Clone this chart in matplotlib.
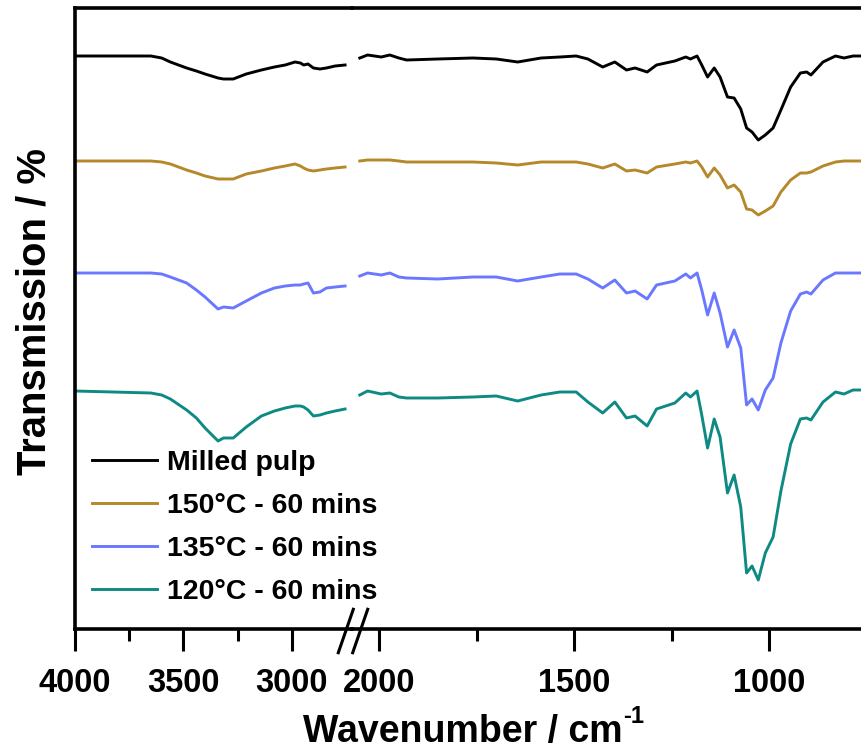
"""FTIR spectra of milled pulp vs. hydrothermally treated samples (broken x-axis)."""

import matplotlib

matplotlib.use("Agg")
import matplotlib.pyplot as plt
from matplotlib.lines import Line2D

plt.rcParams.update(
    {
        "font.family": ["Liberation Sans", "DejaVu Sans"],
        "font.weight": "bold",
        "axes.linewidth": 2.6,
    }
)

# high-wavenumber window (left panel), cm-1
wn_hi = [4000, 3650, 3600, 3560, 3485, 3440, 3400, 3340, 3315, 3270, 3210,
         3140, 3080, 3030, 2985, 2960, 2945, 2925, 2900, 2870, 2840, 2800, 2754]
# fingerprint window (right panel), cm-1
wn_lo = [2050, 2030, 1995, 1973, 1950, 1930, 1850, 1760, 1700, 1645, 1585,
         1537, 1495, 1465, 1427, 1396, 1366, 1344, 1313, 1289, 1242, 1214,
         1202, 1185, 1173, 1158, 1141, 1126, 1107, 1090, 1073, 1058, 1044,
         1028, 1010, 990, 970, 945, 920, 904, 893, 862, 830, 808, 785, 762]

# stacked (offset) transmission, arbitrary units
milled_hi = [573, 573, 571, 567, 561, 558, 555, 551, 550, 550, 555,
             559, 562, 564, 567, 566, 564, 565, 561, 560, 561, 563, 564]
milled_lo = [571, 574, 572, 574, 571, 569, 570, 571, 570, 567, 571,
             572, 573, 570, 562, 567, 559, 561, 557, 564, 568, 572,
             570, 573, 564, 552, 561, 552, 532, 531, 520, 501, 497,
             489, 494, 501, 519, 542, 556, 557, 554, 567, 573, 571, 573, 573]

t150_hi = [468, 468, 467, 465, 459, 456, 453, 450, 450, 450, 455,
           458, 461, 463, 465, 463, 461, 459, 458, 459, 460, 461, 462]
t150_lo = [468, 469, 469, 469, 468, 467, 467, 467, 466, 464, 467,
           467, 467, 465, 461, 465, 458, 459, 456, 462, 465, 467,
           466, 468, 462, 452, 461, 454, 441, 444, 437, 420, 419,
           414, 418, 423, 437, 449, 456, 456, 457, 463, 467, 468, 468, 468]

t135_hi = [356, 356, 355, 352, 346, 339, 332, 320, 322, 321, 328,
           336, 341, 343, 344, 344, 345, 346, 336, 337, 341, 342, 343]
t135_lo = [353, 356, 354, 356, 352, 351, 350, 352, 352, 348, 352,
           355, 355, 350, 341, 349, 336, 338, 330, 344, 348, 355,
           351, 356, 339, 314, 336, 316, 282, 299, 281, 224, 230,
           219, 239, 251, 286, 318, 335, 337, 335, 349, 356, 356, 356, 356]

t120_hi = [238, 236, 234, 230, 219, 211, 201, 188, 191, 191, 202,
           213, 218, 221, 223, 223, 222, 219, 213, 214, 216, 218, 220]
t120_lo = [234, 238, 235, 236, 232, 231, 231, 232, 233, 228, 234,
           237, 237, 227, 216, 227, 211, 213, 203, 220, 226, 236,
           232, 238, 214, 181, 210, 192, 136, 154, 122, 56, 63,
           49, 76, 92, 138, 185, 210, 211, 209, 227, 237, 235, 239, 239]

labels = ["Milled pulp", "150°C - 60 mins", "135°C - 60 mins", "120°C - 60 mins"]
colors = ["#000000", "#B5892A", "#6A78FF", "#0E8A84"]
series_hi = [milled_hi, t150_hi, t135_hi, t120_hi]
series_lo = [milled_lo, t150_lo, t135_lo, t120_lo]

fig = plt.figure(figsize=(8.62, 7.49), dpi=100)
W, H = 862, 749
bottom, top = (H - 629) / H, (629 - 8) / H
ax1 = fig.add_axes([75 / W, bottom, (352 - 75) / W, top])
ax2 = fig.add_axes([352 / W, bottom, (W - 352) / W, top])
ax2.patch.set_alpha(0)

for yh, yl, c in zip(series_hi, series_lo, colors):
    ax1.plot(wn_hi, yh, color=c, lw=2.1)
    ax2.plot(wn_lo, yl, color=c, lw=2.1)

ax1.set_xlim(4000, 2722)
ax2.set_xlim(2070, 762)
for ax in (ax1, ax2):
    ax.set_ylim(0, 621)
    ax.set_yticks([])
    ax.spines["right"].set_visible(False)
    ax.tick_params(axis="x", which="major", direction="out", length=16,
                   width=2.2, labelsize=23.5, pad=12)
    ax.tick_params(axis="x", which="minor", direction="out", length=8.5,
                   width=2.2)
ax2.spines["left"].set_visible(False)
ax1.set_xticks([4000, 3500, 3000])
ax1.set_xticks([3750, 3250], minor=True)
ax2.set_xticks([2000, 1500, 1000])
ax2.set_xticks([1750, 1250], minor=True)

# break marks on the x axis
for x0 in (338.3, 352.7):
    fig.add_artist(Line2D([x0 / W, (x0 + 15) / W],
                          [(H - 652.7) / H, (H - 609.3) / H],
                          color="black", lw=2.2, transform=fig.transFigure))

# x label with a hyphen superscript, as in the original
xl = fig.text(463 / W, (H - 742) / H, "Wavenumber / cm",
              ha="center", va="baseline", fontsize=27, fontweight="bold")
ax1.annotate("-1", xy=(1.0, 0.62), xycoords=xl, ha="left", va="bottom",
             fontsize=17, fontweight="bold")
fig.text(35 / W, (H - 312) / H, "Transmission / %", rotation=90,
         ha="center", va="center", fontsize=28.8, fontweight="bold")

handles = [Line2D([], [], color=c, lw=2.1) for c in colors]
fig.legend(handles, labels, loc="upper left",
           bbox_to_anchor=(92 / W, (H - 450) / H), frameon=False,
           fontsize=20.5, handlelength=2.28, handletextpad=0.35,
           labelspacing=0.6, borderpad=0, borderaxespad=0)

fig.savefig("out.png", dpi=100)
